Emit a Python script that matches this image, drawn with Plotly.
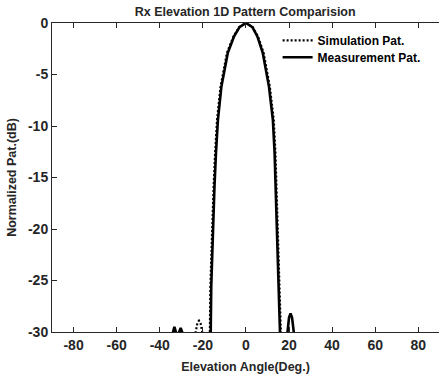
import plotly.graph_objects as go

# Simulation pattern (dotted)
sim_angle = [-90, -24, -23.3, -22.5, -21.8, -21.0, -20.3, -19.5, -17.3, -16.8, -16.5, -16.0,
             -15.6, -15.0, -14.3, -13.4, -11.8, -8.8, -5.8, -3.1, 0, 3.1, 5.6, 8.2, 11.1,
             12.9, 13.7, 14.2, 14.6, 15.1, 15.6, 16.2, 16.7, 90]
sim_db = [-40, -40, -30, -29.1, -28.9, -29.2, -30, -40, -40, -30, -25.6, -22.3,
          -19.1, -15.9, -12.6, -9.4, -6.2, -2.9, -1.3, -0.4, 0, -0.4, -1.3, -2.9, -6.2,
          -9.4, -12.6, -15.9, -19.1, -22.3, -25.6, -30, -40, -40]

# Measurement pattern (solid)
meas_angle = [-90, -34.3, -33.8, -33.2, -32.5, -31.8, -31.0, -30.3, -29.6, -29.0, -16.9,
              -16.4, -16.1, -15.6, -15.2, -14.6, -13.9, -13.0, -11.4, -8.4, -5.5, -3.0, 0,
              3.0, 5.3, 7.8, 10.7, 12.5, 13.3, 13.8, 14.2, 14.7, 15.2, 15.8, 16.3,
              18.5, 19.3, 20.0, 20.7, 21.4, 22.2, 23.0, 90]
meas_db = [-40, -40, -30, -29.5, -30, -31, -30, -29.6, -30, -40, -40,
           -30, -25.6, -22.3, -19.1, -15.9, -12.6, -9.4, -6.2, -2.9, -1.3, -0.4, 0,
           -0.4, -1.3, -2.9, -6.2, -9.4, -12.6, -15.9, -19.1, -22.3, -25.6, -30, -40,
           -40, -30, -28.6, -28.2, -28.6, -30, -40, -40]

x_ticks = [-80, -60, -40, -20, 0, 20, 40, 60, 80]
x_labels = ["-80", "-60", "-40", "-20", "0", "20", "40", "60", "80"]
y_ticks = [0, -5, -10, -15, -20, -25, -30]
y_labels = ["0", "-5", "-10", "-15", "-20", "-25", "-30"]

FONT = "Arial, Liberation Sans, sans-serif"
TXT = "#262626"

fig = go.Figure()
fig.add_trace(go.Scatter(x=sim_angle, y=sim_db, mode="lines", name="Simulation Pat.",
                         legend="legend",
                         line=dict(color="black", width=2.2, dash="2px,2px")))
fig.add_trace(go.Scatter(x=meas_angle, y=meas_db, mode="lines", name="Measurement Pat.",
                         legend="legend2",
                         line=dict(color="black", width=2.6)))

leg_common = dict(xanchor="left", yanchor="top", bgcolor="rgba(0,0,0,0)",
                  font=dict(size=12, weight="bold", color="black"))

fig.update_layout(
    width=439, height=377,
    margin=dict(l=52, r=0, t=23, b=45),
    paper_bgcolor="white", plot_bgcolor="white",
    font=dict(family=FONT, color=TXT),
    title=dict(text="<b>Rx Elevation 1D Pattern Comparision</b>", x=0.5585, xanchor="center",
               y=1 - 12 / 377, yanchor="middle", font=dict(size=12.5, color=TXT)),
    showlegend=True,
    legend=dict(x=0.583, y=0.991, **leg_common),
    legend2=dict(x=0.583, y=0.936, **leg_common),
    xaxis=dict(range=[-90, 89.6], tickvals=x_ticks, ticktext=x_labels, ticks="inside", ticklen=5,
               tickcolor=TXT, showline=True, linecolor=TXT, linewidth=1, mirror="ticks",
               showgrid=False, zeroline=False, tickfont=dict(size=14, weight="bold", color=TXT),
               title=dict(text="<b>Elevation Angle(Deg.)</b>", font=dict(size=12.5), standoff=10)),
    yaxis=dict(range=[-30, 0], tickvals=y_ticks, ticktext=y_labels, ticks="inside", ticklen=5,
               tickcolor=TXT, showline=True, linecolor=TXT, linewidth=1, showgrid=False,
               zeroline=False, tickfont=dict(size=14, weight="bold", color=TXT),
               title=dict(text="<b>Normalized Pat.(dB)</b>", font=dict(size=12.5), standoff=8)),
)

fig.write_html("out.html")
